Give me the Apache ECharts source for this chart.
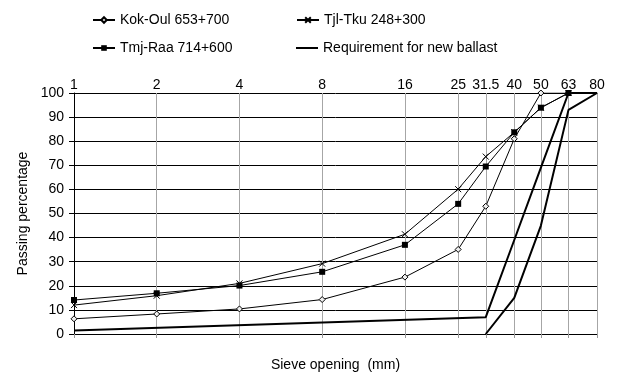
<!DOCTYPE html>
<html><head><meta charset="utf-8">
<script src="https://cdn.jsdelivr.net/npm/echarts@6/dist/echarts.min.js"></script>
<style>html,body{margin:0;padding:0;background:#fff}#c{width:623px;height:377px}</style>
</head><body><div id="c"></div>
<script>
const sieveTicks = [1, 2, 4, 8, 16, 25, 31.5, 40, 50, 63, 80];
const sampleSieves = [1, 2, 4, 8, 16, 25, 31.5, 40, 50, 63];
const kokOul = [6.3, 8.3, 10.4, 14.3, 23.6, 35.1, 53, 81, 100, 100];
const tjlTku = [12, 15.9, 21, 29.2, 41.4, 60.1, 73.6, 83.7, 93.9, 100];
const tmjRaa = [14.1, 16.9, 20.1, 25.8, 37, 54, 69.5, 83.7, 93.9, 100];
const reqSieves = [1, 31.5, 40, 50, 63, 80, 63, 50, 40, 31.5];
const reqPassing = [1.5, 7, 39, 69, 100, 100, 93, 45, 15, 0];
const names = ['Kok-Oul 653+700', 'Tjl-Tku 248+300', 'Tmj-Raa 714+600', 'Requirement for new ballast'];

const FONT = '"Liberation Sans", Arial, sans-serif';
const pair = (xs, ys) => xs.map((x, i) => [x, ys[i]]);
const chart = echarts.init(document.getElementById('c'));
const legendBase = {
  itemWidth: 22, itemHeight: 7, itemGap: 0, padding: 0,
  textStyle: { fontFamily: FONT, fontSize: 14, color: '#000' },
  selectedMode: false
};
chart.setOption({
  animation: false,
  backgroundColor: '#fff',
  textStyle: { fontFamily: FONT },
  grid: { left: 74, right: 26, top: 93, bottom: 40, containLabel: false },
  legend: [
    Object.assign({}, legendBase, { data: [names[0]], left: 92, top: 13 }),
    Object.assign({}, legendBase, { data: [names[1]], left: 296, top: 13 }),
    Object.assign({}, legendBase, { data: [names[2]], left: 92, top: 41 }),
    Object.assign({}, legendBase, { data: [{ name: names[3], icon: 'rect' }], left: 296, top: 41, itemHeight: 2 })
  ],
  xAxis: [
    {
      type: 'log', logBase: 10, min: 1, max: 80, position: 'bottom',
      name: 'Sieve opening  (mm)', nameLocation: 'middle', nameGap: 24,
      nameTextStyle: { fontFamily: FONT, fontSize: 14, color: '#000' },
      axisLine: { show: true, onZero: false, lineStyle: { color: '#000', width: 1 } },
      axisTick: { show: true, customValues: sieveTicks, length: 4, lineStyle: { color: '#999' } },
      axisLabel: { show: false },
      minorTick: { show: false }, minorSplitLine: { show: false },
      splitLine: { show: true, lineStyle: { color: '#a6a6a6', width: 1 } }
    },
    {
      type: 'log', logBase: 10, min: 1, max: 80, position: 'top',
      axisLine: { show: false }, axisTick: { show: false }, splitLine: { show: false },
      axisLabel: {
        customValues: sieveTicks, fontFamily: FONT, fontSize: 14, color: '#000', margin: 1,
        formatter: v => String(+(+v).toFixed(1))
      }
    }
  ],
  yAxis: {
    type: 'value', min: 0, max: 100, interval: 10,
    name: 'Passing percentage', nameLocation: 'middle', nameGap: 44, nameRotate: 90,
    nameTextStyle: { fontFamily: FONT, fontSize: 14, color: '#000' },
    axisLine: { show: true, lineStyle: { color: '#000', width: 1 } },
    axisTick: { show: true, length: 5, lineStyle: { color: '#000' } },
    axisLabel: { fontFamily: FONT, fontSize: 14, color: '#000', margin: 10 },
    splitLine: { show: true, lineStyle: { color: '#000', width: 1 } }
  },
  series: [
    {
      name: names[3], type: 'line', xAxisIndex: 0, data: pair(reqSieves, reqPassing),
      symbol: 'none', lineStyle: { color: '#000', width: 2 }, itemStyle: { color: '#000' }, z: 3
    },
    {
      name: names[0], type: 'line', xAxisIndex: 0, data: pair(sampleSieves, kokOul),
      symbol: 'diamond', symbolSize: 6,
      lineStyle: { color: '#000', width: 1 },
      itemStyle: { color: '#eee', borderColor: '#000', borderWidth: 1 }, z: 4
    },
    {
      name: names[1], type: 'line', xAxisIndex: 0, data: pair(sampleSieves, tjlTku),
      symbol: 'path://M0,0L10,10M10,0L0,10', symbolSize: 6,
      lineStyle: { color: '#000', width: 1 },
      itemStyle: { color: '#000', borderColor: '#000', borderWidth: 1 }, z: 5
    },
    {
      name: names[2], type: 'line', xAxisIndex: 0, data: pair(sampleSieves, tmjRaa),
      symbol: 'rect', symbolSize: 6,
      lineStyle: { color: '#000', width: 1 },
      itemStyle: { color: '#000', borderColor: '#000', borderWidth: 0 }, z: 6
    }
  ]
});
</script>
</body></html>
